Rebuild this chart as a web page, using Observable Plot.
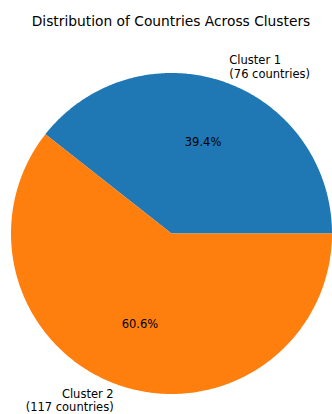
<!DOCTYPE html>
<html>
<head>
<meta charset="utf-8">
<script src="https://cdn.jsdelivr.net/npm/d3@7"></script>
<script src="https://cdn.jsdelivr.net/npm/@observablehq/plot@0.6"></script>
<style>
  html, body { margin: 0; padding: 0; background: #fff; }
  #wrap { width: 332px; height: 414px; position: relative; font-family: "DejaVu Sans", sans-serif; }
  #title { height: 40px; width: 332px; text-align: center; font-size: 13.8px; line-height: 16px; padding-top: 13px; box-sizing: border-box; color: #000; padding-left: 10px; white-space: nowrap; }
  svg { display: block; }
</style>
</head>
<body>
<div id="wrap">
  <div id="title">Distribution of Countries Across Clusters</div>
  <div id="chart"></div>
</div>
<script>
const clusters = ["Cluster 1", "Cluster 2"];
const counts = [76, 117];
const colors = ["#1f77b4", "#ff7f0e"];

const total = d3.sum(counts);
let acc = 0;
const slices = clusters.map((c, i) => {
  const start = acc / total * 2 * Math.PI;
  acc += counts[i];
  const end = acc / total * 2 * Math.PI;
  return {cluster: c, count: counts[i], color: colors[i], start, end, mid: (start + end) / 2,
          pct: (counts[i] / total * 100).toFixed(1) + "%"};
});

// polygon points for each wedge (counterclockwise from east, like matplotlib)
const pts = [];
for (const s of slices) {
  pts.push({cluster: s.cluster, color: s.color, x: 0, y: 0});
  const n = 240;
  for (let k = 0; k <= n; k++) {
    const a = s.start + (s.end - s.start) * k / n;
    pts.push({cluster: s.cluster, color: s.color, x: Math.cos(a), y: Math.sin(a)});
  }
}

const labels = slices.map(s => ({
  text: `${s.cluster}\n(${s.count} countries)`,
  x: 1.1 * Math.cos(s.mid), y: 1.1 * Math.sin(s.mid),
  anchor: Math.cos(s.mid) >= 0 ? "start" : "end"
}));
const pcts = slices.map(s => ({text: s.pct, x: 0.6 * Math.cos(s.mid), y: 0.6 * Math.sin(s.mid)}));

const W = 332, H = 374, R = 160.5, cx = 171, cy = 193;
const chart = Plot.plot({
  width: W, height: H,
  margin: 0,
  x: {domain: [-cx / R, (W - cx) / R], axis: null},
  y: {domain: [-(H - cy) / R, cy / R], axis: null},
  style: {fontFamily: "DejaVu Sans, sans-serif", background: "white"},
  marks: [
    Plot.line(pts, {x: "x", y: "y", z: "cluster", fill: "color", stroke: null, curve: "linear"}),
    Plot.text(labels.filter(d => d.anchor === "start"), {x: "x", y: "y", text: "text", textAnchor: "start", lineAnchor: "middle", fontSize: 11.5, lineHeight: 1.15, fill: "black"}),
    Plot.text(labels.filter(d => d.anchor === "end"), {x: "x", y: "y", text: "text", textAnchor: "end", lineAnchor: "middle", fontSize: 11.5, lineHeight: 1.15, fill: "black"}),
    Plot.text(pcts, {x: "x", y: "y", text: "text", textAnchor: "middle", lineAnchor: "middle", fontSize: 11.5, fill: "black"})
  ]
});
document.getElementById("chart").appendChild(chart);
</script>
</body>
</html>
